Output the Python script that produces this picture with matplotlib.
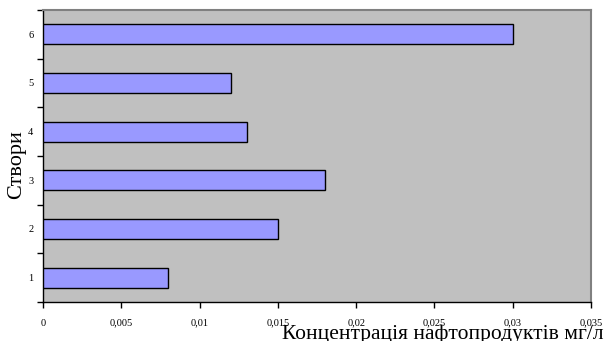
import matplotlib
matplotlib.use("Agg")
import matplotlib.pyplot as plt
import numpy as np

plt.rcParams['font.family'] = ['Liberation Serif', 'DejaVu Serif']

sites = ["1", "2", "3", "4", "5", "6"]
concentration = [0.008, 0.015, 0.018, 0.013, 0.012, 0.030]
x_ticks = [0, 0.005, 0.01, 0.015, 0.02, 0.025, 0.03, 0.035]
x_tick_labels = ["0", "0,005", "0,01", "0,015", "0,02", "0,025", "0,03", "0,035"]

fig = plt.figure(figsize=(6.06, 3.41), dpi=100)
ax = fig.add_axes([43 / 606, 39 / 341, 548 / 606, 292 / 341])
ax.set_facecolor("#C0C0C0")

pos = np.arange(len(sites))
ax.barh(pos, concentration, height=0.41, color="#9999FF",
        edgecolor="black", linewidth=1.0, zorder=3)

ax.set_xlim(0, 0.035)
ax.set_ylim(-0.5, len(sites) - 0.5)

ax.set_xticks(x_ticks)
ax.set_xticklabels(x_tick_labels, fontsize=7.5)
ax.set_yticks(pos)
ax.set_yticklabels(sites, fontsize=7.5)
ax.tick_params(axis="y", which="major", length=0, pad=7)
ax.set_yticks(np.arange(len(sites) + 1) - 0.5, minor=True)
ax.tick_params(axis="y", which="minor", length=4, width=1, direction="out")
ax.tick_params(axis="x", which="major", length=4, width=1, direction="out", pad=8)

for side in ("left", "bottom"):
    ax.spines[side].set_color("black")
    ax.spines[side].set_linewidth(1.0)
for side in ("top", "right"):
    ax.spines[side].set_color("#808080")
    ax.spines[side].set_linewidth(1.5)

fig.text(17 / 606, 1 - 165 / 341, "Створи", rotation=90, fontsize=16,
         ha="center", va="center")
fig.text(604 / 606, 1.5 / 341, "Концентрація нафтопродуктів мг/л", fontsize=15.5,
         ha="right", va="baseline")

fig.savefig("out.png", dpi=100)
